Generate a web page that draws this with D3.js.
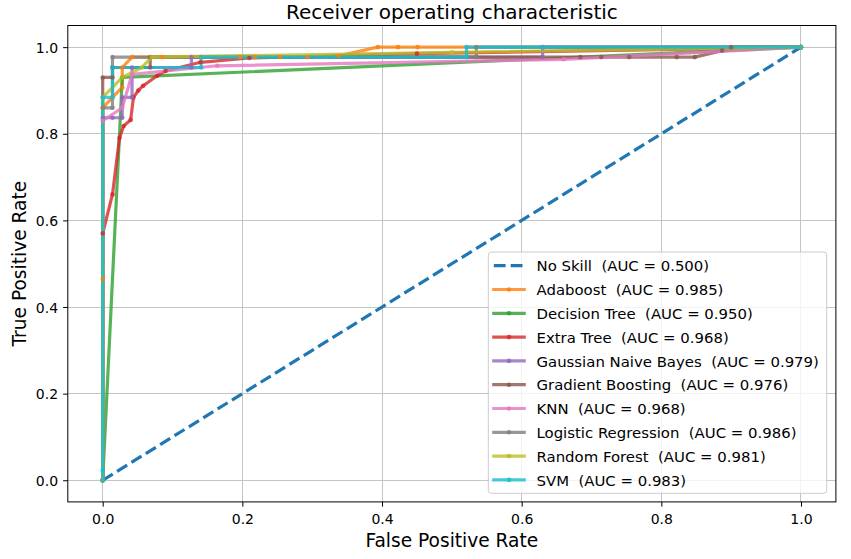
<!DOCTYPE html>
<html><head><meta charset="utf-8">
<script src="https://cdn.jsdelivr.net/npm/d3@7/dist/d3.min.js"></script>
<style>
body{margin:0;background:#fff}
text{font-family:"DejaVu Sans",sans-serif;fill:#000}
</style>
</head><body>
<svg id="chart" width="851" height="559"></svg>
<script>
// ---- data ----
const models = ["No Skill","Adaboost","Decision Tree","Extra Tree","Gaussian Naive Bayes","Gradient Boosting","KNN","Logistic Regression","Random Forest","SVM"];
const aucLabels = ["0.500","0.985","0.950","0.968","0.979","0.976","0.968","0.986","0.981","0.983"];
const colors = ["#1f77b4","#ff7f0e","#2ca02c","#d62728","#9467bd","#8c564b","#e377c2","#7f7f7f","#bcbd22","#17becf"];
const tickValues = [0,0.2,0.4,0.6,0.8,1.0];

const fprNoSkill = [0,1];
const tprNoSkill = [0,1];
const fprAdaboost = [0,0,0,0.014,0.028,0.028,0.042,0.085,0.141,0.197,0.218,0.254,0.293,0.338,0.394,0.423,0.451,1];
const tprAdaboost = [0,0.465,0.86,0.884,0.907,0.953,0.977,0.977,0.977,0.977,0.977,0.977,0.977,0.98,1,1,1,1];
const fprDecisionTree = [0,0.028,1];
const tprDecisionTree = [0,0.93,1];
const fprExtraTree = [0,0,0.014,0.024,0.03,0.04,0.044,0.051,0.058,0.078,0.09,0.14,0.21,0.45,1];
const tprExtraTree = [0,0.57,0.66,0.79,0.818,0.832,0.884,0.9,0.911,0.934,0.945,0.965,0.975,0.985,1];
const fprGaussianNB = [0,0,0.014,0.028,0.028,0.042,0.042,0.127,0.127,0.63,0.63,1];
const tprGaussianNB = [0,0.837,0.837,0.837,0.884,0.884,0.953,0.953,0.977,0.977,1,1];
const fprGradBoost = [0,0,0.014,0.014,0.068,0.068,0.684,0.714,0.754,0.822,0.848,0.887,0.9,1];
const tprGradBoost = [0,0.93,0.93,0.953,0.953,0.977,0.977,0.977,0.977,0.977,0.977,0.992,1,1];
const fprKNN = [0,0,0.028,0.042,0.164,0.66,1];
const tprKNN = [0,0.83,0.86,0.937,0.957,0.972,1];
const fprLogReg = [0,0,0.014,0.014,0.535,0.535,1];
const tprLogReg = [0,0.86,0.86,0.977,0.977,1,1];
const fprRandForest = [0,0,0.028,0.056,0.07,0.5,1];
const tprRandForest = [0,0.884,0.93,0.953,0.977,0.988,1];
const fprSVM = [0,0,0,0.014,0.014,0.141,0.141,0.521,0.521,0.63,1];
const tprSVM = [0,0.023,0.884,0.884,0.953,0.953,0.977,0.977,1,1,1];

const fprs = [fprNoSkill,fprAdaboost,fprDecisionTree,fprExtraTree,fprGaussianNB,fprGradBoost,fprKNN,fprLogReg,fprRandForest,fprSVM];
const tprs = [tprNoSkill,tprAdaboost,tprDecisionTree,tprExtraTree,tprGaussianNB,tprGradBoost,tprKNN,tprLogReg,tprRandForest,tprSVM];

// ---- layout ----
const L = 67.8, R = 835.9, T = 25.5, B = 501.9;
const svg = d3.select("#chart");
const x = d3.scaleLinear().domain([-0.05,1.05]).range([L,R]);
const y = d3.scaleLinear().domain([-0.05,1.05]).range([B,T]);

// grid
const grid = svg.append("g").attr("shape-rendering","crispEdges");
grid.selectAll(".gx").data(tickValues).join("line")
  .attr("x1",d=>x(d)).attr("x2",d=>x(d)).attr("y1",T).attr("y2",B)
  .attr("stroke","#c4c4c4").attr("stroke-width",1);
grid.selectAll(".gy").data(tickValues).join("line")
  .attr("y1",d=>y(d)).attr("y2",d=>y(d)).attr("x1",L).attr("x2",R)
  .attr("stroke","#c4c4c4").attr("stroke-width",1);

// series
const line = d3.line().x(d=>x(d[0])).y(d=>y(d[1]));
const series = models.map((m,i)=>({name:m, auc:aucLabels[i], color:colors[i],
  pts: fprs[i].map((f,j)=>[f,tprs[i][j]])}));

const plot = svg.append("g");
series.forEach((s,i)=>{
  if(i===0){
    plot.append("path").attr("d",line(s.pts)).attr("fill","none")
      .attr("stroke",s.color).attr("stroke-width",3.2)
      .attr("stroke-dasharray","11.8,5.1");
  } else {
    const g = plot.append("g").attr("opacity",0.8);
    g.append("path").attr("d",line(s.pts)).attr("fill","none")
      .attr("stroke",s.color).attr("stroke-width",3.2)
      .attr("stroke-linejoin","round").attr("stroke-linecap","square");
  }
});
series.forEach((s,i)=>{
  if(i===0) return;
  plot.append("g").selectAll("circle").data(s.pts).join("circle")
    .attr("cx",d=>x(d[0])).attr("cy",d=>y(d[1])).attr("r",2.3)
    .attr("fill",s.color).attr("opacity",0.8);
});

// axes
const fmt = d3.format(".1f");
const xAxis = svg.append("g").attr("transform",`translate(0,${B})`)
  .call(d3.axisBottom(x).tickValues(tickValues).tickFormat(fmt).tickSize(4.7).tickPadding(7.4));
const yAxis = svg.append("g").attr("transform",`translate(${L},0)`)
  .call(d3.axisLeft(y).tickValues(tickValues).tickFormat(fmt).tickSize(4.7).tickPadding(5));
[xAxis,yAxis].forEach(a=>{
  a.select(".domain").remove();
  a.selectAll("line").attr("stroke","#000").attr("stroke-width",1);
  a.selectAll("text").attr("font-family","DejaVu Sans").attr("font-size",14).attr("fill","#000");
});
yAxis.selectAll("text").attr("dy","0.36em");

// frame
svg.append("rect").attr("x",L).attr("y",T).attr("width",R-L).attr("height",B-T)
  .attr("fill","none").attr("stroke","#000").attr("stroke-width",1);

// labels
svg.append("text").attr("x",(L+R)/2).attr("y",19).attr("text-anchor","middle")
  .attr("font-size",20).text("Receiver operating characteristic");
svg.append("text").attr("x",(L+R)/2).attr("y",547).attr("text-anchor","middle")
  .attr("font-size",18.6).text("False Positive Rate");
svg.append("text").attr("transform",`translate(25.5,${(T+B)/2}) rotate(-90)`)
  .attr("text-anchor","middle").attr("font-size",18.6).text("True Positive Rate");

// legend
const lg = svg.append("g");
const lgLeft = 488.3, lgTop = 252, lgRight = 826.7, lgBottom = 493.3;
lg.append("rect").attr("x",lgLeft).attr("y",lgTop).attr("width",lgRight-lgLeft).attr("height",lgBottom-lgTop)
  .attr("rx",3).attr("fill","#fff").attr("fill-opacity",0.8).attr("stroke","#cccccc").attr("stroke-width",1);
series.forEach((s,i)=>{
  const cy = 265.7 + i*23.8;
  const x1 = 493.8, x2 = 524.2;
  if(i===0){
    lg.append("line").attr("x1",x1).attr("x2",x2).attr("y1",cy).attr("y2",cy)
      .attr("stroke",s.color).attr("stroke-width",3.2).attr("stroke-dasharray","11.8,5.1");
  } else {
    const g = lg.append("g").attr("opacity",0.8);
    g.append("line").attr("x1",x1).attr("x2",x2).attr("y1",cy).attr("y2",cy)
      .attr("stroke",s.color).attr("stroke-width",3.2).attr("stroke-linecap","square");
    lg.append("circle").attr("cx",(x1+x2)/2).attr("cy",cy).attr("r",2.3)
      .attr("fill",s.color).attr("opacity",0.8);
  }
  lg.append("text").attr("x",536.5).attr("y",cy+5.6).attr("font-size",14.9)
    .style("white-space","pre").text(`${s.name}  (AUC = ${s.auc})`);
});
</script>
</body></html>
